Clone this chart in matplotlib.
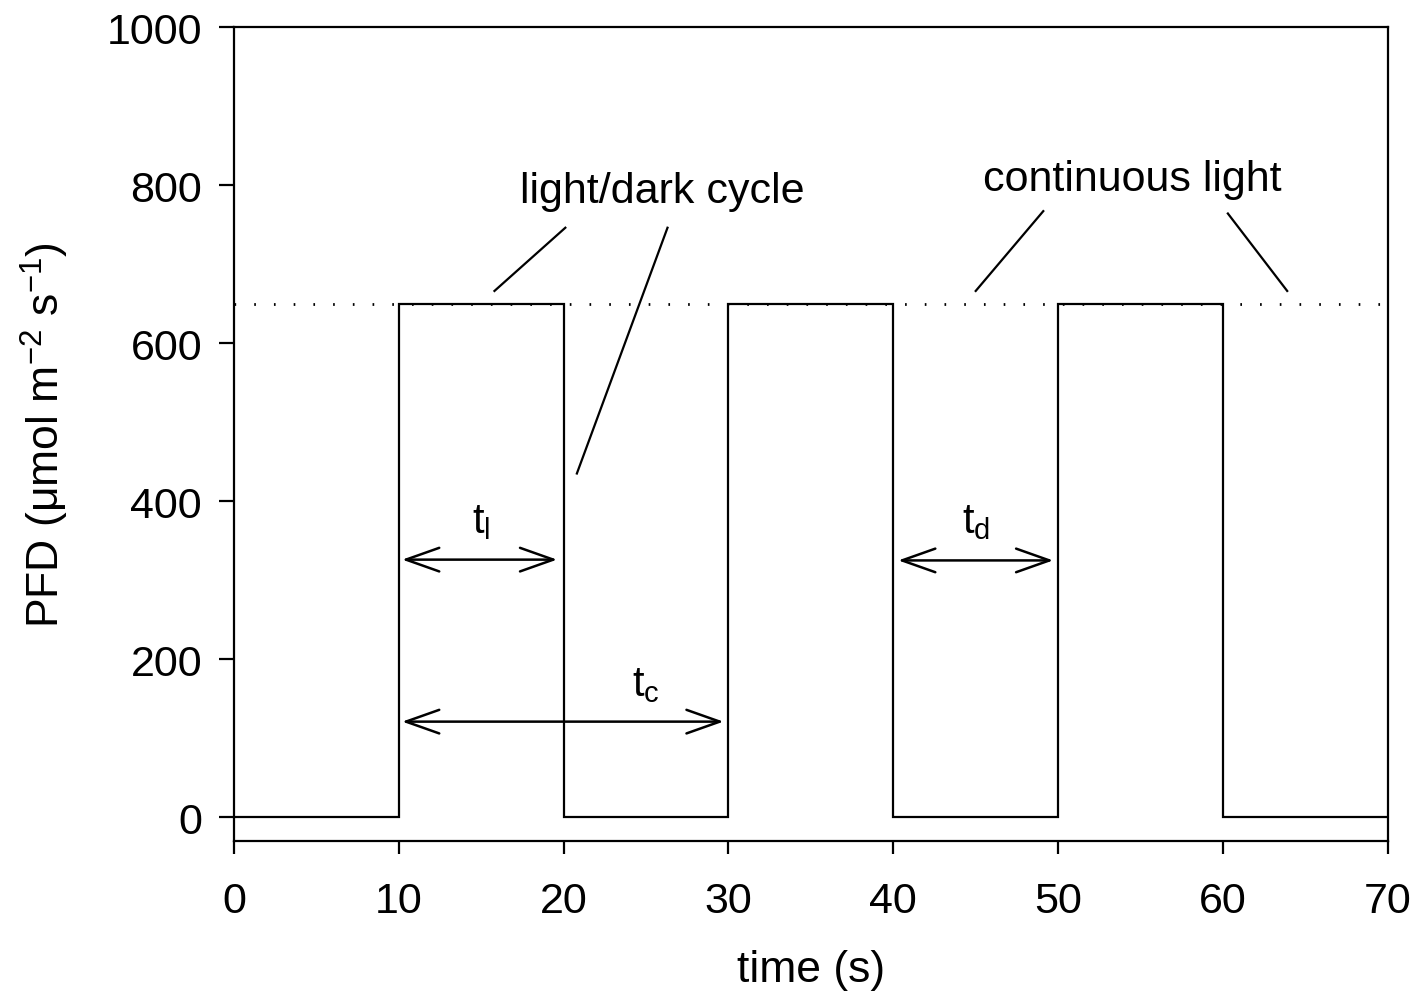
import matplotlib
matplotlib.use("Agg")
import matplotlib.pyplot as plt

plt.rcParams["font.family"] = ["Liberation Sans", "DejaVu Sans"]

# light/dark cycle
edges = [0, 10, 20, 30, 40, 50, 60, 70]
pfd = [0, 650, 0, 650, 0, 650, 0]
continuous_level = 650

# (text, x, y) labels and their pointer lines
callouts = [
    ("light/dark cycle", 26.0, 793, [((20.1, 746), (15.8, 666)), ((26.3, 746), (20.8, 435))]),
    ("continuous light", 54.5, 808, [((49.1, 767), (45.0, 666)), ((60.3, 764), (63.9, 666))]),
]
# duration arrows: (label, x0, x1, y, label_x, label_y)
spans = [
    ("$\\mathregular{t_l}$", 10.2, 19.6, 326, 15.0, 375),
    ("$\\mathregular{t_c}$", 10.2, 29.7, 121, 25.0, 168),
    ("$\\mathregular{t_d}$", 40.3, 49.7, 325, 45.0, 375),
]

fig = plt.figure(figsize=(14.22, 10.04), dpi=100)
ax = fig.add_axes([0.1646, 0.1614, 0.8113, 0.8107])

ax.stairs(pfd, edges, color="black", lw=1.6, baseline=None)
ax.axhline(continuous_level, color="black", lw=2.0, ls=(0, (0.6, 6.5)), zorder=0)

for text, tx, ty, lines in callouts:
    ax.text(tx, ty, text, ha="center", va="center", fontsize=31)
    for (x0, y0), (x1, y1) in lines:
        ax.plot([x0, x1], [y0, y1], color="black", lw=1.6)

for label, x0, x1, y, lx, ly in spans:
    ax.annotate("", xy=(x1, y), xytext=(x0, y),
                arrowprops=dict(arrowstyle="<->,head_length=2.4,head_width=0.85",
                                color="black", lw=1.8, shrinkA=0, shrinkB=0))
    ax.text(lx, ly, label, ha="center", va="center", fontsize=30)

ax.set_xlim(0, 70)
ax.set_ylim(-30, 1000)
ax.set_xticks(range(0, 71, 10))
ax.set_yticks(range(0, 1001, 200))
ax.tick_params(direction="out", labelsize=31, width=1.6, color="black")
ax.tick_params(axis="x", length=9, pad=20)
ax.tick_params(axis="y", length=11, pad=12)
for s in ax.spines.values():
    s.set_linewidth(1.6)

ax.set_xlabel("time (s)", fontsize=32, labelpad=20)
ax.set_ylabel("PFD ($\\mathregular{\\mu}$mol m$^{\\mathregular{-2}}$ s$^{\\mathregular{-1}}$)",
              fontsize=32, labelpad=26)

fig.savefig("out.png", dpi=100)
